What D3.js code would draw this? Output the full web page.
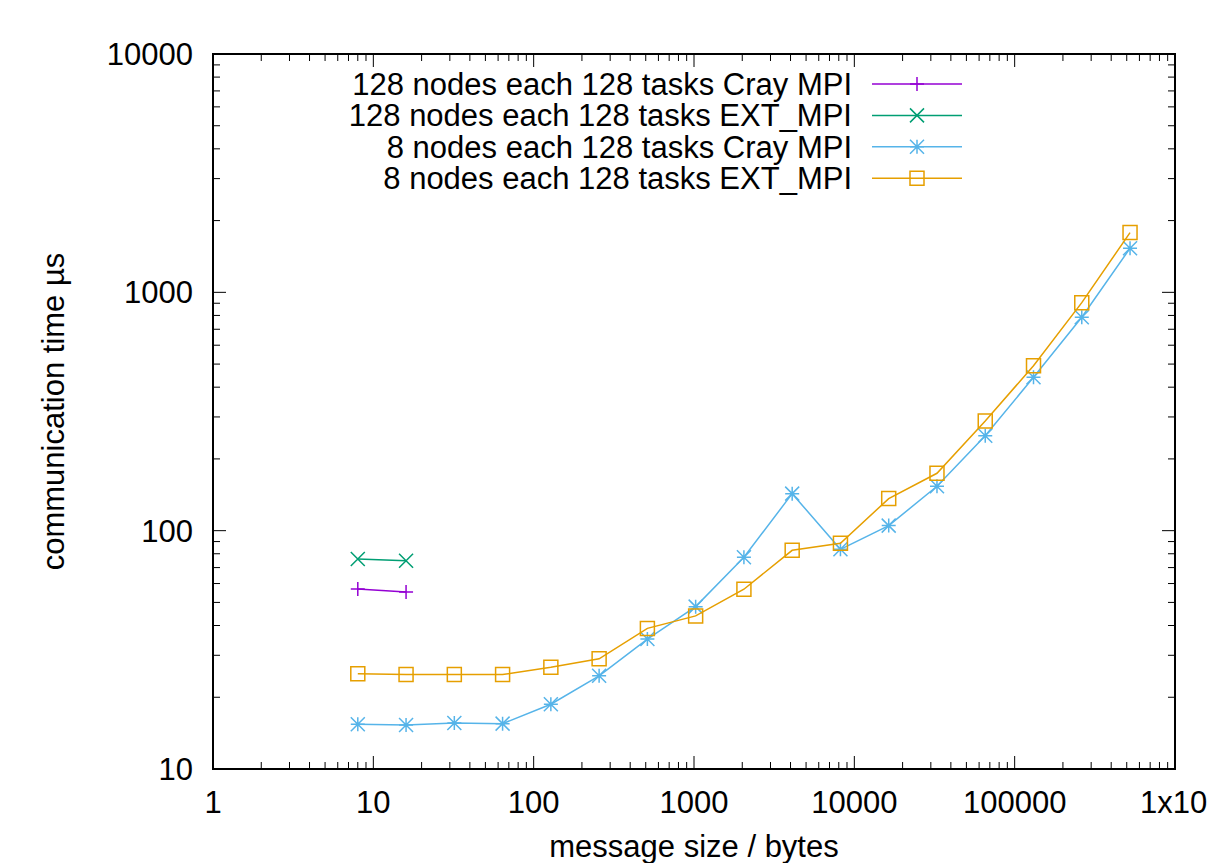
<!DOCTYPE html>
<html>
<head>
<meta charset="utf-8">
<script src="https://cdn.jsdelivr.net/npm/d3@7"></script>
<style>
body { margin: 0; background: #fff; }
text { font-family: "Liberation Sans", Arial, sans-serif; }
</style>
</head>
<body>
<svg id="drawing_region"></svg>
<script>
// message sizes in bytes
const sizes = [8, 16, 32, 64, 128, 256, 512, 1024, 2048, 4096, 8192, 16384, 32768, 65536, 131072, 262144, 524288];
const sizes128 = [8, 16];

// communication times (microseconds)
const cray128 = [56.9, 55.3];
const ext128 = [76.1, 74.8];
const cray8 = [15.4, 15.3, 15.6, 15.5, 18.7, 24.6, 35.1, 48.0, 77.3, 143, 83.5, 105, 153.6, 250.4, 440, 786, 1531];
const ext8 = [25.1, 24.9, 24.9, 24.9, 26.7, 29.0, 38.9, 43.9, 56.8, 82.7, 88.5, 136.3, 174.1, 288.6, 492, 905, 1781];

const series_names = [
  "128 nodes each 128 tasks Cray MPI",
  "128 nodes each 128 tasks EXT_MPI",
  "8 nodes each 128 tasks Cray MPI",
  "8 nodes each 128 tasks EXT_MPI"
];
const xticks = [1, 10, 100, 1000, 10000, 100000, 1000000];
const yticks = [10, 100, 1000, 10000];

const series = [
  {name: series_names[0], x: sizes128, y: cray128, color: "#9400d3", mark: "plus"},
  {name: series_names[1], x: sizes128, y: ext128, color: "#009e73", mark: "cross"},
  {name: series_names[2], x: sizes, y: cray8, color: "#56b4e9", mark: "star"},
  {name: series_names[3], x: sizes, y: ext8, color: "#e69f00", mark: "square"}
];

const width = 1207, height = 863;
const margin = {top: 54, right: 32, bottom: 94, left: 213};
const inner_width = width - margin.left - margin.right;
const inner_height = height - margin.top - margin.bottom;
const fs = 31;

const svg = d3.select('#drawing_region')
  .attr('width', width)
  .attr('height', height);
const chart = svg.append('g')
  .attr('transform', `translate(${margin.left}, ${margin.top})`);

const xscale = d3.scaleLog().domain([1, 1000000]).range([0, inner_width]);
const yscale = d3.scaleLog().domain([10, 10000]).range([inner_height, 0]);

// minor ticks 2..9 per decade
function minors(domain) {
  let out = [];
  for (let d = domain[0]; d < domain[1]; d *= 10)
    for (let k = 2; k <= 9; k++) out.push(d * k);
  return out;
}

const ticks = chart.append('g').attr('stroke', '#000').attr('stroke-width', 1);
const major = 13, minor = 7;
xticks.forEach(v => {
  const x = xscale(v);
  ticks.append('line').attr('x1', x).attr('x2', x).attr('y1', inner_height).attr('y2', inner_height - major);
  ticks.append('line').attr('x1', x).attr('x2', x).attr('y1', 0).attr('y2', major);
});
minors(xscale.domain()).forEach(v => {
  const x = xscale(v);
  ticks.append('line').attr('x1', x).attr('x2', x).attr('y1', inner_height).attr('y2', inner_height - minor);
  ticks.append('line').attr('x1', x).attr('x2', x).attr('y1', 0).attr('y2', minor);
});
yticks.forEach(v => {
  const y = yscale(v);
  ticks.append('line').attr('x1', 0).attr('x2', major).attr('y1', y).attr('y2', y);
  ticks.append('line').attr('x1', inner_width).attr('x2', inner_width - major).attr('y1', y).attr('y2', y);
});
minors(yscale.domain()).forEach(v => {
  const y = yscale(v);
  ticks.append('line').attr('x1', 0).attr('x2', minor).attr('y1', y).attr('y2', y);
  ticks.append('line').attr('x1', inner_width).attr('x2', inner_width - minor).attr('y1', y).attr('y2', y);
});

// frame
chart.append('rect')
  .attr('x', 0).attr('y', 0)
  .attr('width', inner_width).attr('height', inner_height)
  .attr('fill', 'none').attr('stroke', '#000').attr('stroke-width', 2);

// tick labels
xticks.forEach(v => {
  const t = chart.append('text')
    .attr('y', inner_height + 44)
    .attr('font-size', fs).attr('fill', '#000');
  if (v === 1000000) {
    // the last label runs past the right edge, as in the original
    t.attr('x', xscale(v) - 35).attr('text-anchor', 'start').text('1x10');
    t.append('tspan').attr('dy', -12).attr('font-size', 21).text('6');
  } else {
    t.attr('x', xscale(v)).attr('text-anchor', 'middle').text(v);
  }
});
yticks.forEach(v => {
  chart.append('text')
    .attr('x', -20).attr('y', yscale(v) + 11)
    .attr('text-anchor', 'end').attr('font-size', fs).attr('fill', '#000')
    .text(v);
});

// axis titles
chart.append('text')
  .attr('x', inner_width / 2).attr('y', inner_height + 88)
  .attr('text-anchor', 'middle').attr('font-size', fs)
  .text('message size / bytes');
chart.append('text')
  .attr('transform', `translate(${64 - margin.left}, ${inner_height / 2}) rotate(-90)`)
  .attr('text-anchor', 'middle').attr('font-size', fs)
  .text('communication time \u00b5s');

// marker paths
const ms = 7;
function markPath(kind, x, y) {
  if (kind === 'plus') return `M${x - ms},${y}H${x + ms}M${x},${y - ms}V${y + ms}`;
  if (kind === 'cross') return `M${x - ms},${y - ms}L${x + ms},${y + ms}M${x - ms},${y + ms}L${x + ms},${y - ms}`;
  if (kind === 'star') return `M${x - ms},${y}H${x + ms}M${x},${y - ms}V${y + ms}` +
    `M${x - ms},${y - ms}L${x + ms},${y + ms}M${x - ms},${y + ms}L${x + ms},${y - ms}`;
  return `M${x - ms},${y - ms}H${x + ms}V${y + ms}H${x - ms}Z`;
}

const line = d3.line().x(d => xscale(d[0])).y(d => yscale(d[1]));

series.forEach(s => {
  const pts = s.x.map((v, i) => [v, s.y[i]]);
  chart.append('path')
    .datum(pts)
    .attr('d', line)
    .attr('fill', 'none').attr('stroke', s.color).attr('stroke-width', 1.5);
  chart.selectAll(null)
    .data(pts)
    .enter()
    .append('path')
    .attr('d', d => markPath(s.mark, xscale(d[0]), yscale(d[1])))
    .attr('fill', 'none').attr('stroke', s.color).attr('stroke-width', 1.5);
});

// legend
const legend = svg.append('g');
series.forEach((s, i) => {
  const y = 84 + i * 31.4;
  legend.append('text')
    .attr('x', 852).attr('y', y + 11)
    .attr('text-anchor', 'end').attr('font-size', fs)
    .text(s.name);
  legend.append('line')
    .attr('x1', 872).attr('x2', 962).attr('y1', y).attr('y2', y)
    .attr('stroke', s.color).attr('stroke-width', 1.5);
  legend.append('path')
    .attr('d', markPath(s.mark, 917, y))
    .attr('fill', 'none').attr('stroke', s.color).attr('stroke-width', 1.5);
});
</script>
</body>
</html>
